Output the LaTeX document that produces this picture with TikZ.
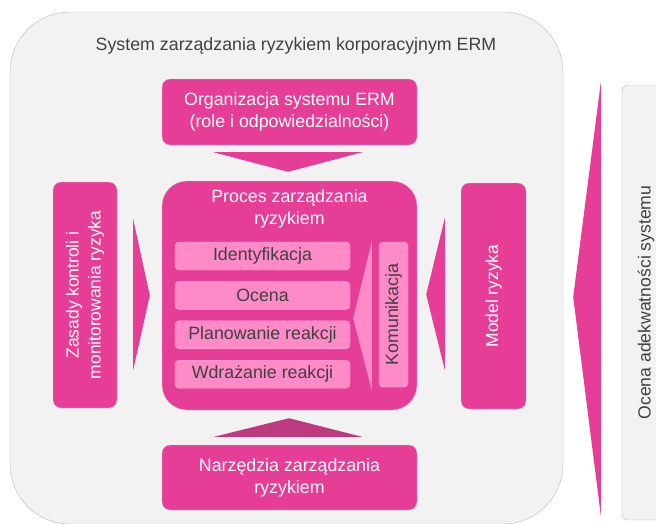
\documentclass[tikz,border=0pt]{standalone}
\usepackage{fontspec}
\setmainfont{Liberation Sans}
\usepackage{xcolor}
\definecolor{ermpink}{RGB}{230, 62, 150}
\definecolor{ermlight}{RGB}{255, 138, 200}
\definecolor{ermdark}{RGB}{190, 58, 128}
\definecolor{ermgray}{RGB}{242, 242, 242}
\definecolor{ermtext}{RGB}{64, 64, 64}
\usepackage{tikz}
\usetikzlibrary{
    positioning,
    calc
}
\tikzstyle{box} = [
    rectangle, draw,
    rounded corners=8pt,
    minimum width=255pt,
    minimum height=66pt,
    text centered,
    align=center,
    draw=black!22,
    fill=ermpink,
    text=white,
    font=\fontsize{17.8}{22}\selectfont
]
\tikzstyle{sidebox} = [
    box,
    rotate=90,
    minimum width=226pt,
    minimum height=65pt,
    font=\fontsize{17.4}{22}\selectfont
]
\tikzstyle{item} = [
    rectangle, draw,
    rounded corners=4pt,
    minimum width=175pt,
    minimum height=28pt,
    text centered,
    draw=ermlight!70!white,
    fill=ermlight,
    text=ermtext,
    font=\fontsize{17.8}{22}\selectfont
]

\begin{document}
\begin{tikzpicture}[
    x=1pt, y=-1pt,
    node distance=11pt
]
\useasboundingbox (0,0) rectangle (656,523);

% tlo
\node (erm) [rectangle, draw=black!28, fill=ermgray, rounded corners=60pt,
    minimum width=553pt, minimum height=512pt] at (286.5,268) {};
\node (ermtitle) [text=ermtext, font=\fontsize{17.8}{22}\selectfont] at (296,46)
    {System zarządzania ryzykiem korporacyjnym ERM};

\node (ocena) [rectangle, draw=black!28, fill=ermgray, rounded corners=6pt,
    rotate=90, minimum width=435pt, minimum height=48pt,
    text=ermtext, font=\fontsize{17.6}{22}\selectfont] at (646,302.5)
    {Ocena adekwatności systemu};

\node (org) [box] at (289.5,112)
    {Organizacja systemu ERM\\(role i odpowiedzialności)};
\node (proc) [box, rounded corners=25pt, minimum height=229pt] at (289.5,295.5) {};
\node (proctitle) [text=white, align=center, font=\fontsize{17.8}{22}\selectfont]
    at (289.5,209) {Proces zarządzania\\ryzykiem};
\node (narz) [box, minimum height=65pt] at (289.5,477.5)
    {Narzędzia zarządzania\\ryzykiem};
\node (zas) [sidebox, minimum height=64pt] at (85,295)
    {Zasady kontroli i\\monitorowania ryzyka};
\node (model) [sidebox] at (493.5,296) {Model ryzyka};

% etapy procesu
\node (ident) [item] at (262.5,256) {Identyfikacja};
\node (ocen) [item, below=of ident] {Ocena};
\node (plan) [item, below=of ocen] {Planowanie reakcji};
\node (wdr) [item, below=of plan] {Wdrażanie reakcji};
\node (kom) [item, rotate=90, minimum width=145pt, minimum height=29pt]
    at (393.5,314.5) {Komunikacja};

% strzalki
\fill [ermpink] ($(org.south)+(-76,7)$) -- ($(org.south)+(73,7)$)
    -- ($(proc.north)+(-1.5,-9)$) -- cycle;
\fill [ermdark] ($(narz.north)+(-75.5,-8)$) -- ($(narz.north)+(72.5,-8)$)
    -- ($(proc.south)+(-0.5,8)$) -- cycle;
\fill [ermpink] ($(zas.south)+(16,-76)$) -- ($(zas.south)+(16,75)$)
    -- ($(proc.west)+(-12,0)$) -- cycle;
\fill [ermpink] ($(model.north)+(-16,-78)$) -- ($(model.north)+(-16,74)$)
    -- ($(proc.east)+(9,-1)$) -- cycle;
\fill [ermlight] ($(kom.north)+(-7,-73)$) -- ($(kom.north)+(-7,76)$)
    -- ($(ocen.east)+(3,23)$) -- cycle;
\fill [ermpink] ($(ocena.north)+(-21,-220)$) -- ($(ocena.north)+(-21,213)$)
    -- ($(erm.east)+(10,29)$) -- cycle;

\end{tikzpicture}
\end{document}
